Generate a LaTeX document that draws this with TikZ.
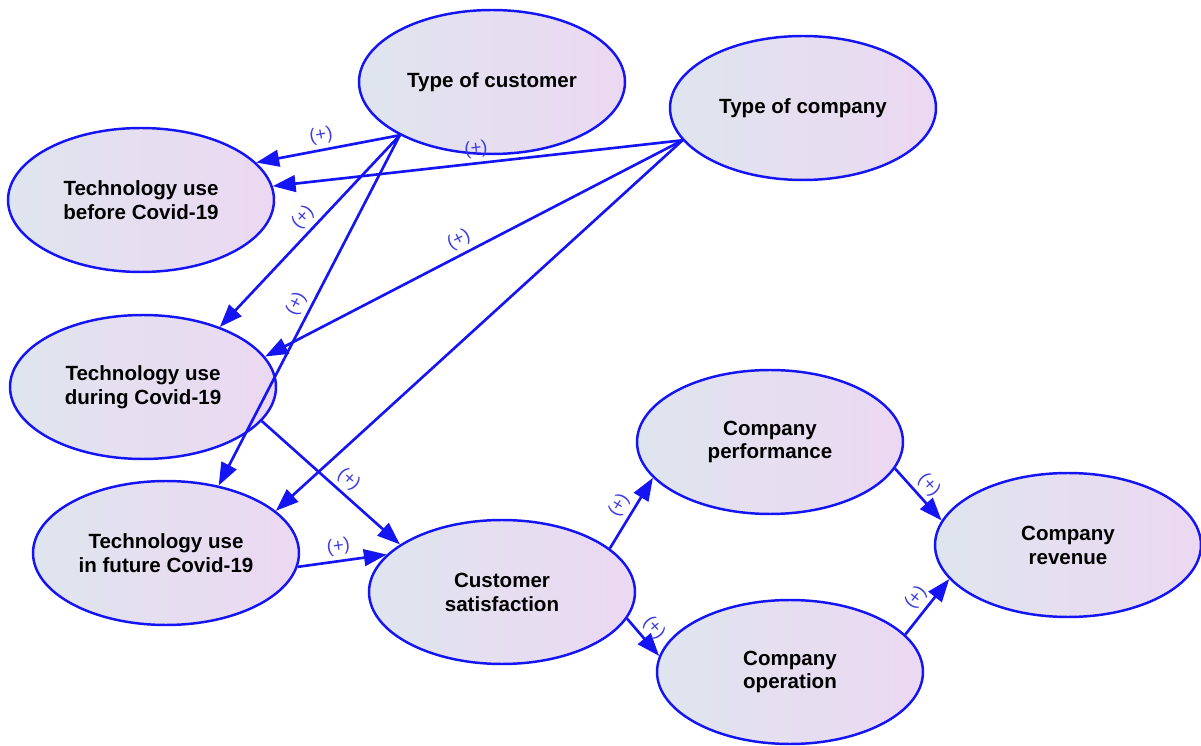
\documentclass[tikz,border=0pt]{standalone}
\usepackage{fontspec}
\setmainfont{Liberation Sans}
\usetikzlibrary{arrows.meta,shapes.geometric}
\definecolor{edgeblue}{RGB}{20,20,245}
\definecolor{signblue}{RGB}{60,60,225}
\definecolor{fillleft}{RGB}{223,229,238}
\definecolor{fillright}{RGB}{236,216,242}
\begin{document}
\begin{tikzpicture}[
    x=0.02cm, y=-0.02cm,
    factor/.style = {shape=ellipse, draw=edgeblue, line width=1.4pt, left color=fillleft, right color=fillright,
        minimum width=5.32cm, minimum height=2.88cm, inner sep=0pt, align=center,
        font=\bfseries\fontsize{11.7}{13.6}\selectfont},
    link/.style = {draw=edgeblue, line width=1.5pt, -{Triangle[length=13pt,width=9.5pt]}},
    sign/.style = {sloped, above, text=signblue, font=\fontsize{10.5}{11}\selectfont, inner sep=2.5pt}
    ]
    \useasboundingbox (0,0) rectangle (1201,746);
    \node[factor] (tcust) at (492,82) {Type of customer};
    \node[factor] (tcomp) at (803,108) {Type of company};
    \node[factor] (before) at (141,200) {Technology use\\before Covid-19};
    \node[factor] (during) at (143,387) {Technology use\\during Covid-19};
    \node[factor] (future) at (166,553) {Technology use\\in future Covid-19};
    \node[factor] (sat) at (502,592) {Customer\\satisfaction};
    \node[factor] (perf) at (770,442) {Company\\performance};
    \node[factor] (oper) at (790,672) {Company\\operation};
    \node[factor] (rev) at (1068,545) {Company\\revenue};

    \draw[link] (tcust.210) -- node[sign, pos=0.53] {(+)} (before.18);
    \draw[link] (tcust.210) -- node[sign, pos=0.48] {(+)} (during.38);
    \draw[link] (tcust.210) -- node[sign, pos=0.5] {(+)} (future.52);
    \draw[link] (tcomp.195) -- node[sign, pos=0.5] {(+)} (before.6.5);
    \draw[link] (tcomp.195) -- node[sign, pos=0.52] {(+)} (during.14);
    \draw[link] (tcomp.195) -- (future.21);
    \draw[link] (during.-16) -- node[sign, pos=0.56] {(+)} (sat.155);
    \draw[link] (future.-6) -- node[sign, pos=0.48] {(+)} (sat.162);
    \draw[link] (sat.22) -- node[sign, pos=0.5] {(+)} (perf.197);
    \draw[link] (sat.-12.5) -- node[sign, pos=0.5] {(+)} (oper.173);
    \draw[link] (perf.-12) -- node[sign, pos=0.5] {(+)} (rev.169);
    \draw[link] (oper.18) -- node[sign, pos=0.5] {(+)} (rev.196);
\end{tikzpicture}
\end{document}
